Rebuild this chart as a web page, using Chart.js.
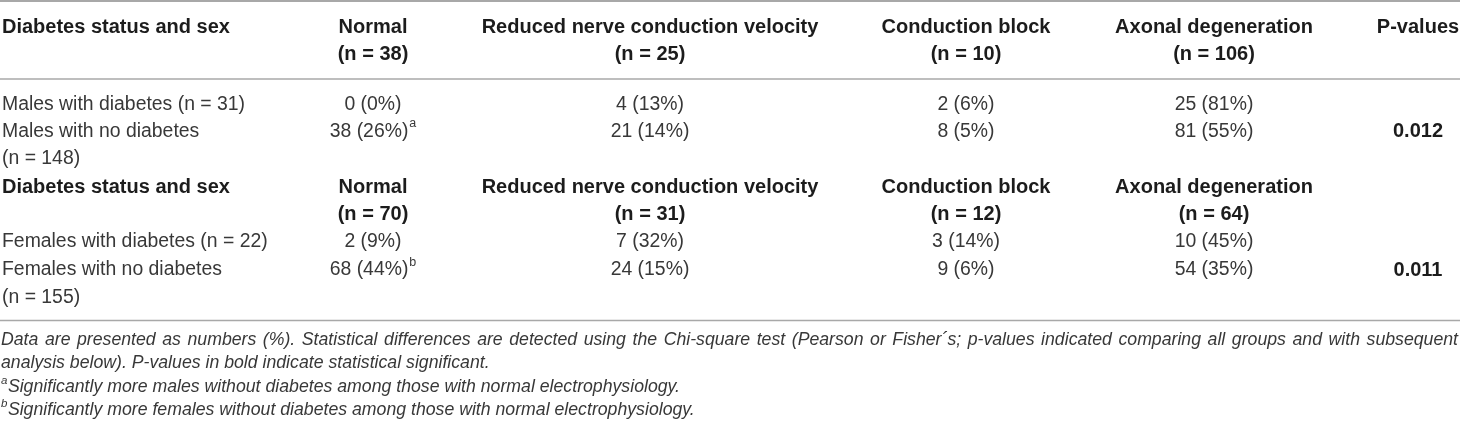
<!DOCTYPE html>
<html>
<head>
<meta charset="utf-8">
<script src="https://cdn.jsdelivr.net/npm/chart.js@4.4.1/dist/chart.umd.min.js"></script>
<style>
  html, body { margin: 0; padding: 0; background: #ffffff; }
  #wrap { width: 1460px; height: 429px; }
  canvas { display: block; }
</style>
</head>
<body>
<div id="wrap"><canvas id="c" width="1460" height="429"></canvas></div>
<script>
// ---------- DATA ----------
const stubHeader = 'Diabetes status and sex';
const outcomeCategories = ['Normal', 'Reduced nerve conduction velocity', 'Conduction block', 'Axonal degeneration'];
const pHeader = 'P-values';

const maleCategoryN = [38, 25, 10, 106];
const femaleCategoryN = [70, 31, 12, 64];

const maleGroupN = [31, 148];
const femaleGroupN = [22, 155];

const malesDiabetesCount = [0, 4, 2, 25];
const malesDiabetesPct = [0, 13, 6, 81];
const malesNoDiabetesCount = [38, 21, 8, 81];
const malesNoDiabetesPct = [26, 14, 5, 55];

const femalesDiabetesCount = [2, 7, 3, 10];
const femalesDiabetesPct = [9, 32, 14, 45];
const femalesNoDiabetesCount = [68, 24, 9, 54];
const femalesNoDiabetesPct = [44, 15, 6, 35];

const pValues = ['0.012', '0.011'];

const footnoteMain = 'Data are presented as numbers (%). Statistical differences are detected using the Chi-square test (Pearson or Fisher\u00b4s; p-values indicated comparing all groups and with subsequent';
const footnoteMain2 = 'analysis below). P-values in bold indicate statistical significant.';
const footnoteA = 'Significantly more males without diabetes among those with normal electrophysiology.';
const footnoteB = 'Significantly more females without diabetes among those with normal electrophysiology.';

// ---------- LAYOUT (scale units) ----------
const colX = [2, 373, 650, 966, 1214, 1418];      // col 0 left edge, others centers
const rowY = [27, 54.5, 105, 131.5, 159, 187, 214.5, 242, 270, 297.5];
const footY = [340, 363.5, 387, 410];
const ruleY = [1, 79, 320.5];

const FONT_BOLD = '700 20px "Liberation Sans", Arial, sans-serif';
const FONT_REG = '400 19.4px "Liberation Sans", Arial, sans-serif';
const FONT_SUP = '400 12.5px "Liberation Sans", Arial, sans-serif';
const FONT_FOOT = 'italic 400 17.7px "Liberation Sans", Arial, sans-serif';
const FONT_FOOT_SUP = 'italic 400 11.5px "Liberation Sans", Arial, sans-serif';
const COL_HEAD = '#1c1c1c';
const COL_BODY = '#383838';
const COL_RULE = '#a8a8a8';

function fmt(counts, pcts) { return counts.map((c, i) => c + ' (' + pcts[i] + '%)'); }

// build table rows from the arrays
const tableRows = [
  { cells: [stubHeader, ...outcomeCategories, pHeader], bold: [true, true, true, true, true, true] },
  { cells: ['', ...maleCategoryN.map(n => '(n = ' + n + ')'), ''], bold: [true, true, true, true, true, true] },
  { cells: ['Males with diabetes (n = ' + maleGroupN[0] + ')', ...fmt(malesDiabetesCount, malesDiabetesPct), ''] },
  { cells: ['Males with no diabetes', ...fmt(malesNoDiabetesCount, malesNoDiabetesPct), pValues[0]], bold: [false, false, false, false, false, true], sup: { 1: 'a' } },
  { cells: ['(n = ' + maleGroupN[1] + ')', '', '', '', '', ''] },
  { cells: [stubHeader, ...outcomeCategories, ''], bold: [true, true, true, true, true, true] },
  { cells: ['', ...femaleCategoryN.map(n => '(n = ' + n + ')'), ''], bold: [true, true, true, true, true, true] },
  { cells: ['Females with diabetes (n = ' + femaleGroupN[0] + ')', ...fmt(femalesDiabetesCount, femalesDiabetesPct), ''] },
  { cells: ['Females with no diabetes', ...fmt(femalesNoDiabetesCount, femalesNoDiabetesPct), pValues[1]], bold: [false, false, false, false, false, true], sup: { 1: 'b' } },
  { cells: ['(n = ' + femaleGroupN[1] + ')', '', '', '', '', ''] }
];

const tablePlugin = {
  id: 'tablePlugin',
  afterDraw(chart) {
    const ctx = chart.ctx;
    const xs = chart.scales.x, ys = chart.scales.y;
    const left = xs.getPixelForValue(xs.min), right = xs.getPixelForValue(xs.max);
    ctx.save();
    // rules
    ctx.strokeStyle = COL_RULE;
    ruleY.forEach((v, i) => {
      ctx.lineWidth = i === 0 ? 2 : 1.5;
      const y = ys.getPixelForValue(v);
      ctx.beginPath(); ctx.moveTo(left, y); ctx.lineTo(right, y); ctx.stroke();
    });
    ctx.textBaseline = 'middle';
    ctx.textAlign = 'left';
    // cells
    tableRows.forEach((row, r) => {
      const y = ys.getPixelForValue(rowY[r]);
      row.cells.forEach((txt, c) => {
        if (!txt) return;
        const bold = row.bold ? row.bold[c] : false;
        ctx.font = bold ? FONT_BOLD : FONT_REG;
        ctx.fillStyle = bold ? COL_HEAD : COL_BODY;
        const w = ctx.measureText(txt).width;
        const sup = row.sup ? row.sup[c] : null;
        let sw = 0;
        if (sup) { ctx.font = FONT_SUP; sw = ctx.measureText(sup).width + 1; ctx.font = bold ? FONT_BOLD : FONT_REG; }
        const cx = xs.getPixelForValue(colX[c]);
        const sx = c === 0 ? cx : cx - (w + sw) / 2;
        ctx.fillText(txt, sx, y);
        if (sup) {
          ctx.font = FONT_SUP;
          ctx.fillText(sup, sx + w + 1, y - 7.5);
        }
      });
    });
    // footnotes
    ctx.fillStyle = COL_BODY;
    ctx.font = FONT_FOOT;
    const fx = xs.getPixelForValue(1);
    // justified first line
    const words = footnoteMain.split(' ');
    const ww = words.map(w => ctx.measureText(w).width);
    const natural = ww.reduce((a, b) => a + b, 0);
    const target = xs.getPixelForValue(1458) - fx;
    const gap = (target - natural) / (words.length - 1);
    let px = fx;
    const y0 = ys.getPixelForValue(footY[0]);
    words.forEach((w, i) => { ctx.fillText(w, px, y0); px += ww[i] + gap; });
    ctx.fillText(footnoteMain2, fx, ys.getPixelForValue(footY[1]));
    [[footnoteA, 'a', footY[2]], [footnoteB, 'b', footY[3]]].forEach(([t, s, yy]) => {
      const y = ys.getPixelForValue(yy);
      ctx.font = FONT_FOOT_SUP;
      const sw = ctx.measureText(s).width;
      ctx.fillText(s, fx, y - 6);
      ctx.font = FONT_FOOT;
      ctx.fillText(t, fx + sw + 0.5, y);
    });
    ctx.restore();
  }
};

new Chart(document.getElementById('c'), {
  type: 'scatter',
  data: { datasets: [] },
  options: {
    responsive: false,
    animation: false,
    devicePixelRatio: 1,
    layout: { padding: 0 },
    plugins: { legend: { display: false }, tooltip: { enabled: false } },
    scales: {
      x: { type: 'linear', min: 0, max: 1460, display: false },
      y: { type: 'linear', min: 0, max: 429, reverse: true, display: false }
    }
  },
  plugins: [tablePlugin]
});
</script>
</body>
</html>
